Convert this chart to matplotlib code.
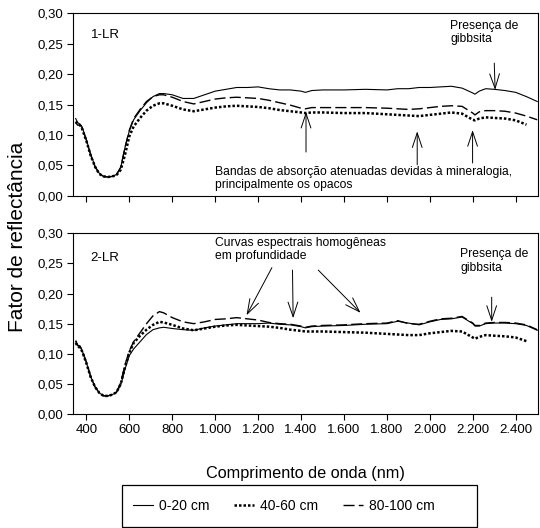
import numpy as np
import matplotlib
matplotlib.use("Agg")
import matplotlib.pyplot as plt
from matplotlib.lines import Line2D
from matplotlib.patches import Rectangle
from matplotlib.ticker import FuncFormatter

plt.rcParams['font.family'] = ['Liberation Sans', 'DejaVu Sans']

# wavelength grid (nm)
wl = [350, 360, 370, 380, 400, 420, 440, 460, 480, 500, 520, 540, 560, 580, 600,
      620, 650, 680, 710, 740, 760, 800, 850, 900, 950, 1000, 1050, 1100, 1150,
      1200, 1250, 1300, 1350, 1400, 1420, 1450, 1500, 1600, 1700, 1800, 1850,
      1900, 1950, 2000, 2050, 2100, 2150, 2200, 2210, 2230, 2260, 2300, 2350,
      2400, 2450, 2500]

# 1-LR
lr1_0_20 = [0.127, 0.120, 0.118, 0.113, 0.092, 0.068, 0.049, 0.037, 0.032, 0.031,
            0.032, 0.035, 0.047, 0.080, 0.107, 0.125, 0.140, 0.153, 0.163, 0.168,
            0.168, 0.166, 0.160, 0.160, 0.166, 0.172, 0.175, 0.178, 0.178, 0.179,
            0.176, 0.174, 0.174, 0.172, 0.170, 0.173, 0.174, 0.174, 0.175, 0.174,
            0.176, 0.176, 0.178, 0.178, 0.179, 0.180, 0.177, 0.169, 0.167, 0.172,
            0.176, 0.175, 0.173, 0.170, 0.163, 0.155]
lr1_40_60 = [0.122, 0.118, 0.116, 0.110, 0.090, 0.066, 0.048, 0.036, 0.032, 0.031,
             0.032, 0.034, 0.043, 0.068, 0.098, 0.114, 0.128, 0.140, 0.148, 0.152,
             0.152, 0.148, 0.142, 0.139, 0.142, 0.145, 0.147, 0.148, 0.147, 0.146,
             0.144, 0.141, 0.139, 0.137, 0.136, 0.137, 0.137, 0.136, 0.136, 0.134,
             0.133, 0.132, 0.131, 0.133, 0.135, 0.137, 0.135, 0.125, 0.124, 0.127,
             0.129, 0.128, 0.127, 0.124, 0.117, np.nan]
lr1_80_100 = [0.120, 0.116, 0.117, 0.112, 0.091, 0.067, 0.048, 0.036, 0.032, 0.031,
              0.032, 0.035, 0.047, 0.080, 0.108, 0.127, 0.142, 0.155, 0.163, 0.166,
              0.166, 0.162, 0.155, 0.151, 0.155, 0.159, 0.161, 0.162, 0.161, 0.160,
              0.157, 0.153, 0.149, 0.144, 0.143, 0.145, 0.145, 0.145, 0.145, 0.144,
              0.143, 0.142, 0.143, 0.145, 0.147, 0.148, 0.147, 0.136, 0.133, 0.138,
              0.140, 0.140, 0.139, 0.136, 0.131, 0.125]

# 2-LR
lr2_0_20 = [0.120, 0.113, 0.112, 0.105, 0.085, 0.062, 0.045, 0.035, 0.030, 0.030,
            0.032, 0.036, 0.048, 0.075, 0.097, 0.108, 0.120, 0.132, 0.140, 0.143,
            0.144, 0.142, 0.140, 0.139, 0.143, 0.146, 0.148, 0.150, 0.150, 0.150,
            0.151, 0.149, 0.148, 0.145, 0.143, 0.145, 0.146, 0.147, 0.149, 0.150,
            0.154, 0.151, 0.148, 0.153, 0.157, 0.158, 0.161, 0.150, 0.146, 0.146,
            0.150, 0.151, 0.151, 0.150, 0.147, 0.139]
lr2_40_60 = [0.118, 0.112, 0.110, 0.104, 0.084, 0.061, 0.045, 0.035, 0.030, 0.030,
             0.032, 0.036, 0.050, 0.078, 0.102, 0.118, 0.130, 0.140, 0.148, 0.153,
             0.152, 0.148, 0.142, 0.139, 0.142, 0.145, 0.147, 0.148, 0.147, 0.146,
             0.145, 0.143, 0.140, 0.138, 0.137, 0.137, 0.137, 0.136, 0.135, 0.133,
             0.132, 0.131, 0.131, 0.134, 0.136, 0.138, 0.137, 0.127, 0.125, 0.128,
             0.131, 0.130, 0.129, 0.127, 0.121, np.nan]
lr2_80_100 = [0.122, 0.114, 0.113, 0.106, 0.086, 0.062, 0.045, 0.035, 0.030, 0.030,
              0.032, 0.036, 0.052, 0.082, 0.105, 0.120, 0.135, 0.150, 0.163, 0.170,
              0.168, 0.160, 0.153, 0.150, 0.153, 0.157, 0.158, 0.160, 0.158, 0.156,
              0.152, 0.150, 0.149, 0.146, 0.144, 0.146, 0.147, 0.148, 0.150, 0.151,
              0.155, 0.150, 0.149, 0.154, 0.158, 0.159, 0.162, 0.151, 0.147, 0.147,
              0.151, 0.152, 0.152, 0.151, 0.148, 0.140]

xticks = [400, 600, 800, 1000, 1200, 1400, 1600, 1800, 2000, 2200, 2400]
yticks = [0.0, 0.05, 0.10, 0.15, 0.20, 0.25, 0.30]

fig = plt.figure(figsize=(5.4, 5.28), dpi=100)
ax1 = fig.add_axes([0.135, 0.629, 0.861, 0.346])
ax2 = fig.add_axes([0.135, 0.216, 0.861, 0.342])

solid = dict(color='black', lw=0.8, ls='-')
dotted = dict(color='black', lw=1.8, ls=(0, (1, 0.8)))
dashed = dict(color='black', lw=1.0, ls=(0, (8, 3)))

for ax, s0, s1, s2 in [(ax1, lr1_0_20, lr1_40_60, lr1_80_100),
                       (ax2, lr2_0_20, lr2_40_60, lr2_80_100)]:
    ax.plot(wl, s1, **dotted)
    ax.plot(wl, s2, **dashed)
    ax.plot(wl, s0, **solid)
    ax.set_xlim(337, 2503)
    ax.set_ylim(0, 0.30)
    ax.set_xticks(xticks)
    ax.set_yticks(yticks)
    ax.yaxis.set_major_formatter(FuncFormatter(lambda v, p: f"{v:.2f}".replace('.', ',')))
    ax.tick_params(direction='out', length=4, width=0.8, labelsize=9.5, pad=3)
    for sp in ax.spines.values():
        sp.set_linewidth(0.8)

ax1.tick_params(labelbottom=False)
ax2.xaxis.set_major_formatter(FuncFormatter(lambda v, p: f"{int(v):,}".replace(',', '.')))
ax2.set_xlabel('Comprimento de onda (nm)', fontsize=11.7, labelpad=22)
fig.text(0.032, 0.551, 'Fator de reflectância', rotation=90, ha='center', va='center',
         fontsize=15)

arr = dict(arrowstyle='->,head_length=0.75,head_width=0.25', color='black', lw=0.7,
           shrinkA=0, shrinkB=0, mutation_scale=14)

# panel 1 annotations
ax1.text(420, 0.265, '1-LR', fontsize=9.5, va='center')
ax1.text(2094, 0.289, 'Presença de\ngibbsita', fontsize=8.7, va='top', linespacing=1.15)
ax1.annotate('', xy=(2304, 0.174), xytext=(2300, 0.218), arrowprops=arr)
ax1.text(998, 0.049, 'Bandas de absorção atenuadas devidas à mineralogia,\nprincipalmente os opacos',
         fontsize=8.7, va='top', linespacing=1.15)
for x0, y0, y1 in [(1423, 0.072, 0.138), (1941, 0.051, 0.106), (2199, 0.054, 0.108)]:
    ax1.annotate('', xy=(x0, y1), xytext=(x0, y0), arrowprops=arr)

# panel 2 annotations
ax2.text(420, 0.259, '2-LR', fontsize=9.5, va='center')
ax2.text(998, 0.294, 'Curvas espectrais homogêneas\nem profundidade', fontsize=8.7,
         va='top', linespacing=1.15)
ax2.annotate('', xy=(1146, 0.164), xytext=(1264, 0.243), arrowprops=arr)
ax2.annotate('', xy=(1363, 0.159), xytext=(1360, 0.239), arrowprops=arr)
ax2.annotate('', xy=(1677, 0.168), xytext=(1480, 0.239), arrowprops=arr)
ax2.text(2141, 0.275, 'Presença de\ngibbsita', fontsize=8.7, va='top', linespacing=1.15)
ax2.annotate('', xy=(2288, 0.153), xytext=(2288, 0.194), arrowprops=arr)

# legend box drawn separately, entries packed to the left like the original
fig.patches.append(Rectangle((0.226, 0.002), 0.657, 0.0795, transform=fig.transFigure,
                             fill=False, edgecolor='black', lw=0.9))
handles = [Line2D([], [], **solid), Line2D([], [], **dotted), Line2D([], [], **dashed)]
fig.legend(handles, ['0-20 cm', '40-60 cm', '80-100 cm'], loc='center left',
           bbox_to_anchor=(0.246, 0.042), ncol=3, fontsize=10, frameon=False,
           handlelength=1.45, handletextpad=0.4, columnspacing=1.8,
           borderpad=0, borderaxespad=0)

fig.savefig('out.png', dpi=100)
